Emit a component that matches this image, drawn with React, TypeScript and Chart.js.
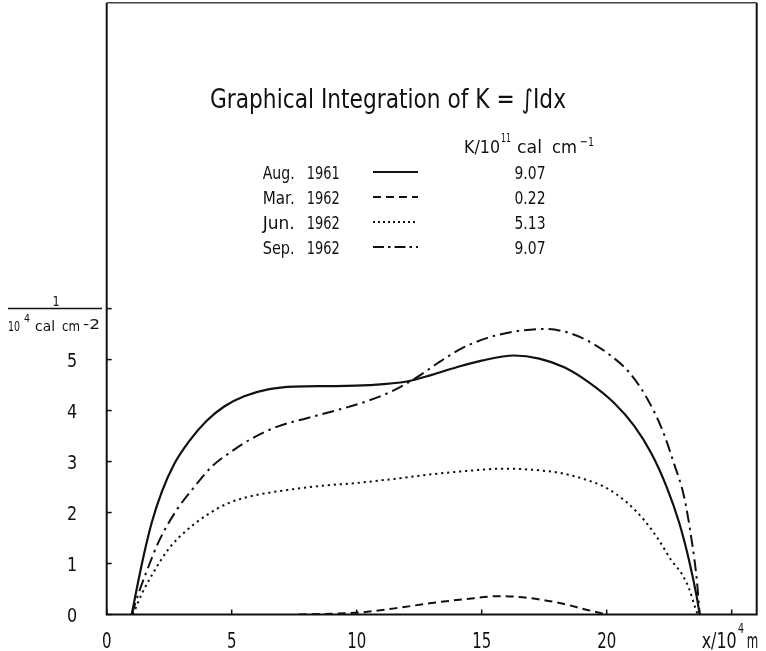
import React, { useEffect, useRef } from "react";
import { Chart, registerables } from "chart.js";

Chart.register(...registerables);

// ---- data ----
const augX = [1.0, 1.2, 1.5, 1.8, 2.2, 2.7, 3.3, 4.0, 4.7, 5.5, 6.5, 7.5, 9.0, 10.5, 12.0, 13.0, 14.0, 15.0, 16.3, 17.3, 18.3, 19.3, 20.3, 21.1, 21.8, 22.4, 22.9, 23.3, 23.6, 23.72];
const augY = [0, 0.5, 1.2, 1.8, 2.4, 2.95, 3.4, 3.8, 4.08, 4.28, 4.42, 4.47, 4.48, 4.5, 4.57, 4.7, 4.85, 4.98, 5.08, 5.02, 4.85, 4.55, 4.15, 3.7, 3.15, 2.5, 1.8, 1.05, 0.35, 0];

const marX = [7.68, 10.12, 11.52, 12.92, 14.32, 15.72, 16.95, 18.17, 19.22, 20.0];
const marY = [0, 0.04, 0.12, 0.22, 0.3, 0.36, 0.32, 0.22, 0.09, 0];

const junX = [1.05, 1.4, 1.9, 2.5, 3.2, 4.0, 4.8, 5.6, 6.5, 7.5, 8.5, 10.0, 11.5, 13.0, 14.5, 15.8, 17.0, 18.2, 19.2, 20.0, 20.8, 21.5, 22.1, 22.6, 23.0, 23.3, 23.55, 23.64];
const junY = [0, 0.4, 0.85, 1.3, 1.65, 1.95, 2.17, 2.3, 2.39, 2.46, 2.52, 2.58, 2.66, 2.75, 2.82, 2.86, 2.84, 2.77, 2.64, 2.48, 2.2, 1.85, 1.45, 1.05, 0.8, 0.5, 0.12, 0];

const sepX = [1.0, 1.3, 1.6, 2.1, 2.8, 3.5, 4.2, 5.0, 5.8, 6.8, 8.0, 9.3, 10.5, 11.5, 12.4, 13.3, 14.2, 15.2, 16.3, 17.5, 18.3, 19.2, 20.1, 20.9, 21.6, 22.2, 22.7, 23.1, 23.4, 23.6, 23.72];
const sepY = [0, 0.45, 0.85, 1.45, 2.05, 2.5, 2.9, 3.2, 3.45, 3.68, 3.85, 4.02, 4.2, 4.4, 4.65, 4.95, 5.22, 5.42, 5.55, 5.6, 5.55, 5.38, 5.1, 4.75, 4.25, 3.65, 2.95, 2.3, 1.45, 0.7, 0];

const seriesMonths = ["Aug.", "Mar.", "Jun.", "Sep."];
const seriesYears = ["1961", "1962", "1962", "1962"];
const kValues = ["9.07", "0.22", "5.13", "9.07"];

const xTicks = [0, 5, 10, 15, 20, 25];
const xTickLabels = ["0", "5", "10", "15", "20"];
const yTicks = [0, 1, 2, 3, 4, 5, 6];
const yTickLabels = ["0", "1", "2", "3", "4", "5"];

const titleText = "Graphical Integration of K = \u222BIdx";

// ---- styles ----
const FONT = '"DejaVu Sans", sans-serif';
const dashes: number[][] = [[], [8, 5], [2.2, 3.8], [12, 5, 2.5, 5]];
const legendDashes: number[][] = [[], [8, 5], [2, 3], [11, 4, 2.5, 4]];

function pts(xs: number[], ys: number[]) {
  return xs.map((x, i) => ({ x, y: ys[i] }));
}

function fitText(ctx: CanvasRenderingContext2D, text: string, left: number, baseline: number, width: number, size: number) {
  ctx.save();
  ctx.font = `${size}px ${FONT}`;
  const w = ctx.measureText(text).width;
  ctx.translate(left, baseline);
  ctx.scale(width / w, 1);
  ctx.textAlign = "left";
  ctx.textBaseline = "alphabetic";
  ctx.fillText(text, 0, 0);
  ctx.restore();
}

function scaledText(ctx: CanvasRenderingContext2D, text: string, cx: number, baseline: number, size: number, sx: number) {
  ctx.save();
  ctx.font = `${size}px ${FONT}`;
  const w = ctx.measureText(text).width * sx;
  ctx.translate(cx - w / 2, baseline);
  ctx.scale(sx, 1);
  ctx.textAlign = "left";
  ctx.textBaseline = "alphabetic";
  ctx.fillText(text, 0, 0);
  ctx.restore();
}

const decorPlugin = {
  id: "decor",
  afterDraw(chart: any) {
    const ctx: CanvasRenderingContext2D = chart.ctx;
    const a = chart.chartArea;
    const xs = chart.scales.x;
    const ys = chart.scales.y;
    ctx.save();
    ctx.fillStyle = "#111";
    ctx.strokeStyle = "#111";
    ctx.lineCap = "butt";

    // frame
    ctx.lineWidth = 2;
    ctx.beginPath();
    ctx.moveTo(a.left, a.top);
    ctx.lineTo(a.left, a.bottom);
    ctx.lineTo(a.right, a.bottom);
    ctx.lineTo(a.right, a.top);
    ctx.stroke();
    ctx.strokeStyle = "#444";
    ctx.lineWidth = 1.6;
    ctx.beginPath();
    ctx.moveTo(a.left, a.top);
    ctx.lineTo(a.right, a.top);
    ctx.stroke();
    ctx.strokeStyle = "#111";

    // x ticks (inward)
    ctx.lineWidth = 1.5;
    xTicks.forEach((t) => {
      const px = xs.getPixelForValue(t);
      ctx.beginPath();
      ctx.moveTo(px, a.bottom);
      ctx.lineTo(px, a.bottom - 5);
      ctx.stroke();
    });
    xTickLabels.forEach((lab, i) => {
      scaledText(ctx, lab, xs.getPixelForValue(xTicks[i]), 648, 22, 0.68);
    });
    // x axis title
    fitText(ctx, "x/10", 701.7, 648, 35, 22);
    fitText(ctx, "4", 738, 633, 6, 14);
    fitText(ctx, "m", 746.7, 648, 11.5, 22);

    // y ticks (inward)
    yTicks.forEach((t) => {
      const py = ys.getPixelForValue(t);
      ctx.beginPath();
      ctx.moveTo(a.left, py);
      ctx.lineTo(a.left + 5, py);
      ctx.stroke();
    });
    yTickLabels.forEach((lab, i) => {
      scaledText(ctx, lab, 72, ys.getPixelForValue(yTicks[i]) + 7.5, 20, 0.8);
    });
    // y axis unit as fraction
    const fy = ys.getPixelForValue(6);
    ctx.lineWidth = 1.5;
    ctx.beginPath();
    ctx.moveTo(8, fy);
    ctx.lineTo(102, fy);
    ctx.stroke();
    scaledText(ctx, "1", 56, fy - 3, 14, 0.8);
    fitText(ctx, "10", 8, fy + 22, 12, 14);
    fitText(ctx, "4", 24, fy + 13, 6, 11);
    fitText(ctx, "cal", 35, fy + 22, 20, 14);
    fitText(ctx, "cm", 62, fy + 22, 18, 14);
    fitText(ctx, "-2", 83, fy + 20, 17, 14);

    // title
    fitText(ctx, titleText, 210, 108, 356, 26);

    // header of value column
    fitText(ctx, "K/10", 464, 153, 36, 18);
    fitText(ctx, "11", 501, 142, 10, 12);
    fitText(ctx, "cal", 517, 153, 25, 18);
    fitText(ctx, "cm", 552, 153, 25, 18);
    fitText(ctx, "\u22121", 580, 146, 14, 13);

    // legend rows
    seriesMonths.forEach((m, i) => {
      const cy = 172 + i * 25;
      const base = cy + 6.5;
      fitText(ctx, m, 262.7, base, 32, 18);
      fitText(ctx, seriesYears[i], 306.7, base, 33, 18);
      ctx.save();
      ctx.lineWidth = 2;
      ctx.setLineDash(legendDashes[i]);
      ctx.beginPath();
      ctx.moveTo(373, cy);
      ctx.lineTo(418, cy);
      ctx.stroke();
      ctx.restore();
      fitText(ctx, kValues[i], 530 - 15.5, base, 31, 18);
    });

    ctx.restore();
  },
};

export default function App() {
  const ref = useRef<HTMLCanvasElement | null>(null);
  useEffect(() => {
    if (!ref.current) return;
    const series = [pts(augX, augY), pts(marX, marY), pts(junX, junY), pts(sepX, sepY)];
    const chart = new Chart(ref.current, {
      type: "line",
      data: {
        datasets: series.map((d, i) => ({
          label: seriesMonths[i] + " " + seriesYears[i],
          data: d,
          borderColor: "#111",
          borderWidth: i === 0 ? 2.2 : 2,
          borderDash: dashes[i],
          borderCapStyle: "butt" as const,
          pointRadius: 0,
          fill: false,
          cubicInterpolationMode: "monotone" as const,
        })),
      },
      options: {
        animation: false,
        responsive: false,
        devicePixelRatio: 1,
        layout: { padding: { left: 106.7, right: 9.3, top: 2.7, bottom: 36.5 } },
        scales: {
          x: { type: "linear", min: 0, max: 26, display: false },
          y: { type: "linear", min: 0, max: 12, display: false },
        },
        plugins: { legend: { display: false }, tooltip: { enabled: false } },
      },
      plugins: [decorPlugin],
    });
    return () => chart.destroy();
  }, []);
  return (
    <div style={{ position: "absolute", left: 0, top: 0, width: 766, height: 651, background: "#fff" }}>
      <canvas ref={ref} width={766} height={651} style={{ display: "block" }} />
    </div>
  );
}
